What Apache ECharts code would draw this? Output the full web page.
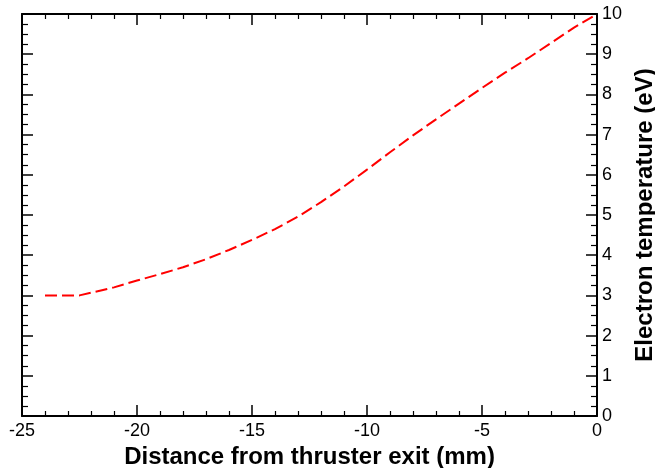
<!DOCTYPE html>
<html>
<head>
<meta charset="utf-8">
<script src="https://cdn.jsdelivr.net/npm/echarts@6/dist/echarts.min.js"></script>
<style>
html,body{margin:0;padding:0;background:#fff;}
#chart{width:655px;height:468px;}
</style>
</head>
<body>
<div id="chart"></div>
<script>
const distance = [-24, -22.5, -21, -20, -19, -18, -17, -16, -15, -14, -13, -12, -11, -10, -9, -8, -7, -6, -5, -4, -3, -2, -1, 0];
const electronTemp = [3.0, 3.0, 3.2, 3.37, 3.53, 3.7, 3.9, 4.13, 4.38, 4.65, 4.96, 5.32, 5.71, 6.13, 6.56, 6.98, 7.38, 7.77, 8.16, 8.54, 8.9, 9.28, 9.66, 10.0];
const xTicks = {min: -25, max: 0, interval: 5};
const yTicks = {min: 0, max: 10, interval: 1};

const font = 'Liberation Sans, Arial, Helvetica, sans-serif';
const chart = echarts.init(document.getElementById('chart'), null, {renderer: 'canvas'});

const axisLine = {show: true, onZero: false, lineStyle: {color: '#000', width: 2}};
const majorTick = {show: true, inside: true, length: 11, lineStyle: {color: '#000', width: 1.5}};

chart.setOption({
  animation: false,
  backgroundColor: '#fff',
  grid: {left: 22, right: 58, top: 14, bottom: 52, containLabel: false, outerBoundsMode: 'none'},
  xAxis: [
    {
      type: 'value', position: 'bottom',
      min: xTicks.min, max: xTicks.max, interval: xTicks.interval,
      name: 'Distance from thruster exit (mm)', nameLocation: 'middle', nameGap: 20,
      nameTextStyle: {fontFamily: font, fontWeight: 'bold', fontSize: 24, color: '#000'},
      axisLine: axisLine, axisTick: majorTick,
      minorTick: {show: true, splitNumber: 5, length: 5, lineStyle: {color: '#000', width: 1.2}},
      axisLabel: {show: true, margin: 6, fontFamily: font, fontSize: 18, color: '#000'},
      splitLine: {show: false}, minorSplitLine: {show: false}
    },
    {
      type: 'value', position: 'top',
      min: xTicks.min, max: xTicks.max, interval: xTicks.interval,
      axisLine: axisLine, axisTick: majorTick,
      minorTick: {show: true, splitNumber: 5, length: 5, lineStyle: {color: '#000', width: 1.2}},
      axisLabel: {show: false}, splitLine: {show: false}
    }
  ],
  yAxis: [
    {
      type: 'value', position: 'right',
      min: yTicks.min, max: yTicks.max, interval: yTicks.interval,
      name: 'Electron temperature (eV)', nameLocation: 'middle', nameGap: 26, nameRotate: 90,
      nameTextStyle: {fontFamily: font, fontWeight: 'bold', fontSize: 24, color: '#000'},
      axisLine: axisLine, axisTick: majorTick,
      minorTick: {show: true, splitNumber: 4, length: 6, lineStyle: {color: '#000', width: 1.2}},
      axisLabel: {show: true, margin: 5, fontFamily: font, fontSize: 18, color: '#000'},
      splitLine: {show: false}, minorSplitLine: {show: false}
    },
    {
      type: 'value', position: 'left',
      min: yTicks.min, max: yTicks.max, interval: yTicks.interval,
      axisLine: axisLine, axisTick: majorTick,
      minorTick: {show: true, splitNumber: 4, length: 6, lineStyle: {color: '#000', width: 1.2}},
      axisLabel: {show: false}, splitLine: {show: false}
    }
  ],
  series: [{
    type: 'line',
    xAxisIndex: 0, yAxisIndex: 0,
    data: distance.map((d, i) => [d, electronTemp[i]]),
    showSymbol: false, symbol: 'none',
    lineStyle: {color: '#ff0000', width: 2, type: [12, 5]}
  }]
});
</script>
</body>
</html>
